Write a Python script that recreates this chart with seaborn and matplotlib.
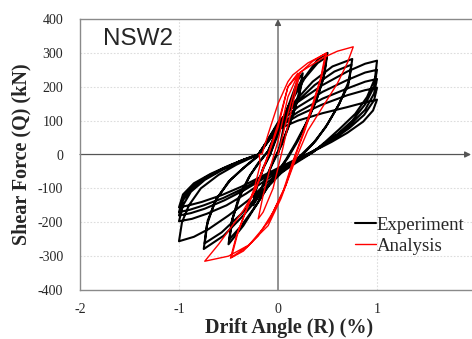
import numpy as np
import pandas as pd
import matplotlib
matplotlib.use("Agg")
import matplotlib.pyplot as plt
import seaborn as sns

# ---- data ----
exp_drift = [
    0.0, 0.1, 0.2, 0.25, 0.22, 0.15, 0.05, -0.05, -0.15, -0.25, -0.22, -0.15, -0.08,
    0.0, 0.1, 0.2, 0.25, 0.21, 0.13, 0.04, -0.06, -0.16, -0.25, -0.21, -0.14, -0.08,
    0.0, 0.1, 0.25, 0.4, 0.5, 0.47, 0.4, 0.3, 0.2, 0.1, -0.05, -0.2, -0.35, -0.5, -0.47, -0.4, -0.3, -0.2, -0.1,
    0.0, 0.12, 0.27, 0.4, 0.49, 0.46, 0.38, 0.28, 0.18, 0.08, -0.07, -0.22, -0.37, -0.49, -0.46, -0.38, -0.28, -0.18, -0.1,
    0.0, 0.15, 0.35, 0.55, 0.75, 0.72, 0.62, 0.5, 0.38, 0.25, 0.08, -0.15, -0.35, -0.55, -0.75, -0.72, -0.64, -0.5, -0.35, -0.2,
    0.0, 0.17, 0.37, 0.57, 0.74, 0.71, 0.6, 0.48, 0.36, 0.22, 0.05, -0.17, -0.37, -0.57, -0.74, -0.71, -0.62, -0.48, -0.33, -0.19,
    0.0, 0.2, 0.45, 0.7, 0.88, 1.0, 0.98, 0.9, 0.78, 0.62, 0.48, 0.36, 0.18, -0.1, -0.3, -0.5, -0.7, -0.85, -1.0, -0.97, -0.9, -0.78, -0.6, -0.42, -0.2,
    0.0, 0.2, 0.45, 0.7, 0.88, 1.0, 0.97, 0.88, 0.75, 0.6, 0.45, 0.33, 0.15, -0.12, -0.32, -0.52, -0.72, -0.87, -1.0, -0.96, -0.88, -0.74, -0.56, -0.38, -0.2,
    0.0, 0.2, 0.45, 0.7, 0.88, 1.0, 0.97, 0.88, 0.73, 0.57, 0.42, 0.3, 0.12, -0.14, -0.34, -0.54, -0.74, -0.88, -1.0, -0.96, -0.87, -0.72, -0.54, -0.37, -0.2,
    0.0, 0.2, 0.45, 0.7, 0.88, 1.0, 0.97, 0.87, 0.72, 0.56, 0.4, 0.27, 0.1, -0.15, -0.35, -0.55, -0.75, -0.89, -1.0, -0.96, -0.86, -0.7, -0.52, -0.36, -0.2,
    0.0, 0.2, 0.45, 0.7, 0.88, 1.0, 0.96, 0.86, 0.7, 0.54, 0.38, 0.24, 0.07, -0.17, -0.37, -0.57, -0.77, -0.9, -1.0, -0.96, -0.85, -0.68, -0.5, -0.34, -0.2,
]
exp_force = [
    0, 140, 220, 240, 190, 120, 40, -20, -90, -150, -100, -40, 0,
    60, 130, 200, 225, 170, 100, 30, -30, -95, -140, -90, -35, 0,
    70, 140, 220, 280, 300, 240, 170, 100, 40, -10, -70, -140, -210, -265, -200, -130, -70, -25, 10,
    75, 150, 225, 270, 288, 225, 155, 90, 35, -15, -80, -150, -210, -250, -190, -120, -60, -20, 10,
    80, 150, 215, 260, 282, 220, 150, 90, 40, 0, -40, -110, -180, -240, -279, -210, -140, -80, -40, -5,
    85, 150, 205, 245, 265, 205, 140, 80, 35, -5, -45, -110, -175, -230, -262, -195, -130, -75, -35, 0,
    95, 155, 205, 245, 268, 277, 225, 170, 120, 75, 38, 8, -25, -80, -135, -180, -220, -243, -256, -200, -150, -100, -60, -30, 0,
    90, 140, 185, 220, 242, 250, 200, 148, 100, 60, 28, 3, -25, -75, -115, -150, -175, -190, -197, -150, -110, -75, -45, -20, 0,
    85, 125, 165, 195, 215, 223, 180, 132, 88, 52, 22, 0, -27, -70, -105, -135, -160, -173, -180, -135, -100, -68, -40, -18, 0,
    80, 115, 148, 175, 190, 197, 160, 117, 78, 45, 17, -3, -28, -68, -100, -128, -150, -163, -170, -128, -92, -62, -37, -17, 0,
    75, 100, 122, 140, 154, 162, 130, 97, 64, 37, 13, -6, -30, -65, -95, -120, -140, -150, -156, -118, -85, -57, -33, -14, 0,
]

ana_drift = [
    0.0, 0.1, 0.2, 0.22, 0.15, 0.05, -0.05, -0.15, -0.2, -0.15, -0.08, 0.0,
    0.1, 0.2, 0.35, 0.49, 0.44, 0.36, 0.27, 0.18, 0.08, -0.05, -0.2, -0.35, -0.48,
    -0.42, -0.33, -0.24, -0.18, -0.19, -0.16, -0.1, 0.0, 0.1, 0.15, 0.3, 0.48,
    0.43, 0.34, 0.25, 0.15, 0.05, -0.1, -0.3, -0.47, -0.4, -0.3, -0.2, -0.1, 0.0, 0.1,
    0.22, 0.45, 0.6, 0.76, 0.7, 0.6, 0.45, 0.3, 0.17, 0.03, -0.1, -0.3, -0.5, -0.74,
    -0.6, -0.5, -0.35, -0.22, -0.12, 0.0, 0.1, 0.2,
]
ana_force = [
    0, 120, 230, 240, 150, 20, -100, -170, -190, -120, -40, 40,
    170, 235, 275, 300, 230, 150, 70, 0, -90, -170, -240, -285, -306,
    -240, -170, -100, -30, 0, 2, 60, 150, 215, 235, 270, 298,
    225, 140, 60, -20, -110, -200, -270, -303, -225, -150, -80, 0, 90, 200,
    242, 285, 305, 318, 270, 210, 140, 70, -20, -130, -210, -268, -300, -315,
    -265, -225, -165, -100, -20, 80, 200, 240,
]

series_names = ["Experiment", "Analysis"]
x_ticks = [-2, -1, 0, 1]
y_ticks = [-400, -300, -200, -100, 0, 100, 200, 300, 400]

df = pd.concat([
    pd.DataFrame({"drift": exp_drift, "force": exp_force, "series": series_names[0]}),
    pd.DataFrame({"drift": ana_drift, "force": ana_force, "series": series_names[1]}),
], ignore_index=True)

sns.set_style("white")
plt.rcParams["font.family"] = ["Liberation Serif", "DejaVu Serif"]

fig = plt.figure(figsize=(4.72, 3.39), dpi=100)
ax = fig.add_axes([0.1695, 0.1445, 0.839, 0.7994])

for name, color, lw, z in [("Experiment", "black", 1.5, 2), ("Analysis", "red", 1.0, 3)]:
    sub = df[df.series == name]
    sns.lineplot(data=sub, x="drift", y="force", sort=False, estimator=None,
                 color=color, linewidth=lw, ax=ax, label=name, zorder=z)

ax.set_xlim(-2, 2)
ax.set_ylim(-400, 400)
ax.set_xticks(x_ticks)
ax.set_yticks(y_ticks)
ax.set_xticklabels([str(t) for t in x_ticks], fontsize=10)
ax.set_yticklabels([str(t) for t in y_ticks], fontsize=10)
ax.tick_params(axis="x", length=0, pad=9)
ax.tick_params(axis="y", length=0, pad=12)

# dotted grid (except at zero)
for xv in [-1, 1]:
    ax.axvline(xv, color="#dddddd", lw=0.8, ls=(0, (1.5, 1.5)), zorder=0)
for yv in [-300, -200, -100, 100, 200, 300]:
    ax.axhline(yv, color="#dddddd", lw=0.8, ls=(0, (1.5, 1.5)), zorder=0)

# zero axes with arrows
ax.annotate("", xy=(0, 400), xytext=(0, -400),
            arrowprops=dict(arrowstyle="-|>", color="#555555", lw=0.9, mutation_scale=9,
                            shrinkA=0, shrinkB=0), zorder=1)
ax.annotate("", xy=(1.95, 0), xytext=(-2, 0),
            arrowprops=dict(arrowstyle="-|>", color="#555555", lw=0.9, mutation_scale=9,
                            shrinkA=0, shrinkB=0), zorder=1)

for s in ax.spines.values():
    s.set_color("#8a8a8a")
    s.set_linewidth(1.0)

ax.set_xlabel("Drift Angle (R) (%)", fontsize=14.5, fontweight="bold")
ax.xaxis.set_label_coords(0.528, -0.103)
ax.set_ylabel("Shear Force (Q) (kN)", fontsize=14.5, fontweight="bold", labelpad=5)

ax.text(0.058, 0.968, "NSW2", transform=ax.transAxes, fontsize=17.5,
        family=["Liberation Sans", "DejaVu Sans"], va="top", ha="left")

leg = ax.legend(loc="lower left", bbox_to_anchor=(0.695, 0.13), frameon=False,
                fontsize=13.5, handlelength=1.1, handletextpad=0.05, labelspacing=0.2,
                borderaxespad=0, borderpad=0)

fig.savefig("out.png", dpi=100)
